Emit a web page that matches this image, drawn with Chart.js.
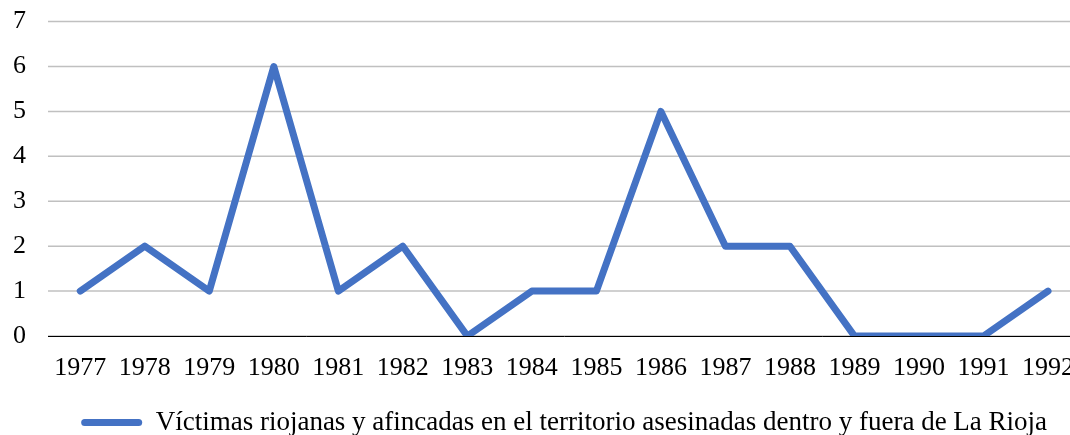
<!DOCTYPE html>
<html>
<head>
<meta charset="utf-8">
<script src="https://cdn.jsdelivr.net/npm/chart.js@4"></script>
<style>
  html, body { margin: 0; padding: 0; background: #fff; overflow: hidden; }
  #wrap { width: 1091px; height: 435px; }
</style>
</head>
<body>
<div id="wrap"><canvas id="chart" width="1091" height="435"></canvas></div>
<script>
// data
const years = ['1977', '1978', '1979', '1980', '1981', '1982', '1983', '1984',
               '1985', '1986', '1987', '1988', '1989', '1990', '1991', '1992'];
const victims = [1, 2, 1, 6, 1, 2, 0, 1, 1, 5, 2, 2, 0, 0, 0, 1];
const seriesLabel = 'Víctimas riojanas y afincadas en el territorio asesinadas dentro y fuera de La Rioja';

const blue = '#4472C4';
const gridGrey = '#c0c0c0';
const family = '"Liberation Serif", "Times New Roman", serif';
const tickFont = { family: family, size: 26 };
const legendFont = { family: family, size: 27 };

// horizontal gridlines spanning the x scale, drawn before the axes
const gridPlugin = {
    id: 'gridPlugin',
    beforeDraw(chart) {
        const x = chart.scales.x;
        const y = chart.scales.y;
        const ctx = chart.ctx;
        ctx.save();
        ctx.strokeStyle = gridGrey;
        ctx.lineWidth = 1.5;
        y.ticks.forEach(t => {
            const py = y.getPixelForValue(t.value);
            ctx.beginPath();
            ctx.moveTo(x.left, py);
            ctx.lineTo(x.right, py);
            ctx.stroke();
        });
        ctx.restore();
    }
};

new Chart(document.getElementById('chart'), {
    type: 'line',
    data: {
        labels: years,
        datasets: [{
            label: seriesLabel,
            data: victims,
            borderColor: blue,
            backgroundColor: blue,
            borderWidth: 7,
            borderJoinStyle: 'round',
            borderCapStyle: 'round',
            pointRadius: 0,
            tension: 0
        }]
    },
    options: {
        responsive: false,
        animation: false,
        layout: { padding: { left: 13, top: 0, right: 0, bottom: -11 } },
        plugins: {
            tooltip: { enabled: false },
            legend: {
                position: 'bottom',
                fullSize: false,
                labels: {
                    font: legendFont,
                    color: '#000',
                    boxWidth: 61,
                    boxHeight: 7,
                    padding: 2,
                    generateLabels: () => [{
                        text: seriesLabel,
                        fillStyle: blue,
                        strokeStyle: blue,
                        lineWidth: 0,
                        borderRadius: 3.5,
                        datasetIndex: 0
                    }]
                }
            }
        },
        scales: {
            x: {
                offset: true,
                grid: { display: false, drawTicks: false },
                border: { display: true, color: '#000', width: 1 },
                ticks: { font: tickFont, color: '#000', padding: 17, maxRotation: 0, autoSkip: false },
                afterFit: (s) => { s.height = 71; }
            },
            y: {
                min: 0,
                max: 7,
                grid: { display: false, drawTicks: false },
                border: { display: false },
                ticks: { font: tickFont, color: '#000', stepSize: 1, padding: 6, crossAlign: 'far' },
                afterFit: (s) => { s.width = 35; }
            }
        }
    },
    plugins: [gridPlugin]
});
</script>
</body>
</html>
